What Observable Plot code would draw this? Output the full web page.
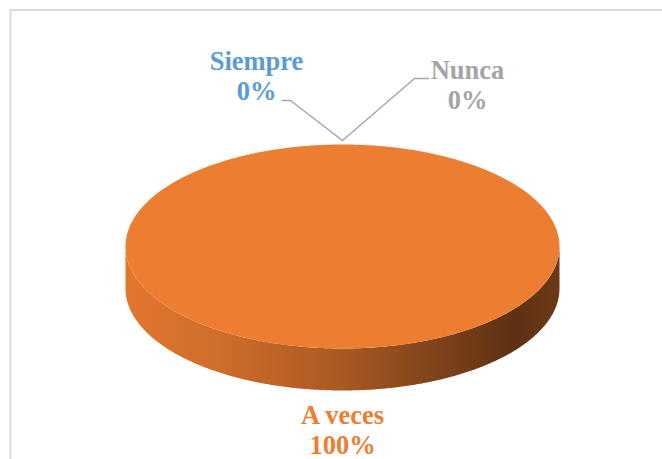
<!DOCTYPE html>
<html><head><meta charset="utf-8">
<script src="https://cdn.jsdelivr.net/npm/d3@7"></script>
<script src="https://cdn.jsdelivr.net/npm/@observablehq/plot@0.6"></script>
<style>html,body{margin:0;padding:0;background:#fff}svg{display:block}</style>
</head><body><div id="chart"></div>
<script>
// ---- data ----
const categories = ["Siempre", "A veces", "Nunca"];
const values = [0, 100, 0];
const percentLabels = ["0%", "100%", "0%"];
const sliceColors = ["#5B9BD5", "#ED7D31", "#A5A5A5"];

// ---- layout ----
const W = 662, H = 459;
const pie = {cx: 342, cy: 246, rx: 217, ry: 102, depth: 42};
const labelLayout = {
  "Siempre": {x: 256, y: 99.5, leader: [[282, 100], [290, 100]]},
  "A veces": {x: 342, y: 453, leader: null},
  "Nunca":   {x: 467, y: 108.5, leader: [[428, 78], [414, 78]]}
};

const arcs = d3.pie().sort(null).value(d => d)(values);
const slices = categories.map((c, i) => ({
  category: c, value: values[i], percent: percentLabels[i], color: sliceColors[i],
  start: arcs[i].startAngle, end: arcs[i].endAngle
}));

const P = (t, dz = 0, k = 1) => [pie.cx + k * pie.rx * Math.sin(t), pie.cy - k * pie.ry * Math.cos(t) + dz];
function sample(a, b) {
  const n = Math.max(2, Math.ceil((b - a) / (Math.PI / 360)));
  return d3.range(n + 1).map(i => a + (b - a) * i / n);
}

const topPts = [], sidePts = [], rimPts = [], shadowPts = [];
slices.forEach((s, si) => {
  if (s.end - s.start <= 1e-9) return;
  const full = s.end - s.start >= 2 * Math.PI - 1e-9;
  const ts = sample(s.start, s.end);
  const pts = ts.map(t => P(t));
  if (!full) pts.push([pie.cx, pie.cy]);
  pts.forEach(([x, y]) => topPts.push({x, y, z: s.category, fill: s.color}));
  ts.map(t => P(t, 0, 0.99)).forEach(([x, y]) => rimPts.push({x, y, z: s.category}));
  const a = Math.max(s.start, Math.PI / 2), b = Math.min(s.end, 3 * Math.PI / 2);
  if (b > a) {
    const st = sample(a, b);
    [...st.map(t => P(t)), ...st.slice().reverse().map(t => P(t, pie.depth))]
      .forEach(([x, y]) => sidePts.push({x, y, z: s.category, fill: `url(#side${si})`}));
  }
});
sample(0, 2 * Math.PI).map(t => [pie.cx + (pie.rx + 5) * Math.sin(t), pie.cy + pie.depth + 8 - (pie.ry + 3) * Math.cos(t)])
  .forEach(([x, y]) => shadowPts.push({x, y}));

const labels = slices.map(s => {
  const L = labelLayout[s.category];
  const mid = (s.start + s.end) / 2;
  const anchor = P(mid, -4);
  return {...s, lx: L.x, ly: L.y, leader: L.leader ? [...L.leader, anchor] : null};
});
const leaderPts = labels.filter(d => d.leader).flatMap(d => d.leader.map(([x, y]) => ({x, y, z: d.category})));

const chart = Plot.plot({
  width: W, height: H, margin: 0,
  x: {domain: [0, W], range: [0, W], axis: null},
  y: {domain: [0, H], range: [0, H], axis: null},
  color: {type: "identity"},
  marks: [
    Plot.frame({stroke: "#d9d9d9", strokeWidth: 2, insetLeft: 10, insetTop: 9.5, insetRight: -10, insetBottom: -10}),
    Plot.line(shadowPts, {x: "x", y: "y", fill: "#d9d9d9", stroke: null, curve: "linear-closed", ariaLabel: "shadow"}),
    Plot.line(sidePts, {x: "x", y: "y", z: "z", fill: "fill", stroke: null, curve: "linear-closed"}),
    Plot.line(topPts, {x: "x", y: "y", z: "z", fill: "fill", stroke: null, curve: "linear-closed"}),
    Plot.line(rimPts, {x: "x", y: "y", z: "z", stroke: "url(#rim)", strokeWidth: 4, curve: "linear-closed", fill: "none", ariaLabel: "rim"}),
    Plot.line(leaderPts, {x: "x", y: "y", z: "z", stroke: "#a6a6a6", strokeWidth: 1.5}),
    Plot.text(labels, {x: "lx", y: "ly", text: d => d.category + "\n" + d.percent, fill: "color",
      fontSize: 26.5, fontWeight: "bold", fontFamily: "'Liberation Serif', 'Times New Roman', serif",
      lineAnchor: "bottom", lineHeight: 1.12, textAnchor: "middle"})
  ]
});

const svg = d3.select(chart);
const defs = svg.insert("defs", ":first-child");
slices.forEach((s, si) => {
  const g = defs.append("linearGradient").attr("id", `side${si}`).attr("gradientUnits", "userSpaceOnUse")
    .attr("x1", pie.cx - pie.rx).attr("x2", pie.cx + pie.rx).attr("y1", 0).attr("y2", 0);
  const c = d3.color(s.color);
  [[0, 0.15], [0.2, 0.35], [0.5, 0.95], [0.75, 1.9], [0.9, 2.6], [1, 2.2]].forEach(([o, k]) =>
    g.append("stop").attr("offset", o).attr("stop-color", c.darker(k).formatHex()));
});
const rim = defs.append("linearGradient").attr("id", "rim").attr("gradientUnits", "userSpaceOnUse")
  .attr("x1", pie.cx - pie.rx).attr("x2", pie.cx + pie.rx).attr("y1", pie.cy - pie.ry).attr("y2", pie.cy + pie.ry);
[["#f39655", 0.45], ["#f39350", 0.35], ["#ed7d31", 0.0], ["#c9651f", 0.35], ["#a8521a", 0.5]].forEach(([c, o], i) =>
  rim.append("stop").attr("offset", i / 4).attr("stop-color", c).attr("stop-opacity", o));
const f = defs.append("filter").attr("id", "blur").attr("x", "-10%").attr("y", "-20%").attr("width", "120%").attr("height", "140%");
f.append("feGaussianBlur").attr("stdDeviation", 1.2);
const f2 = defs.append("filter").attr("id", "blur2").attr("x", "-10%").attr("y", "-20%").attr("width", "120%").attr("height", "140%");
f2.append("feGaussianBlur").attr("stdDeviation", 4);
svg.selectAll("g[aria-label=shadow] path").attr("filter", "url(#blur2)");
svg.selectAll("g[aria-label=rim] path").attr("filter", "url(#blur)");

document.getElementById("chart").append(chart);
</script>
</body></html>
